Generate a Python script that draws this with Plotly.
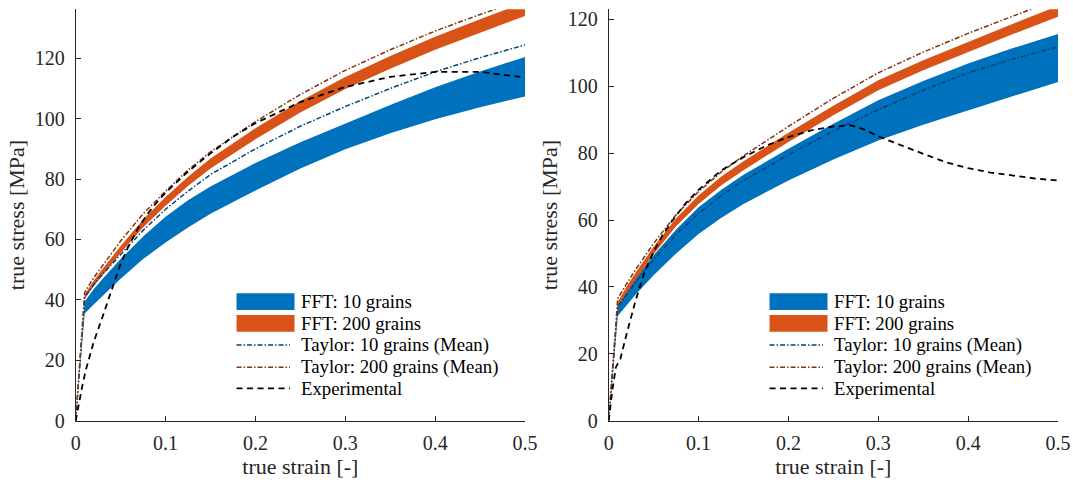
import plotly.graph_objects as go

# ---- data -------------------------------------------------------------
strain = [0, 0.01, 0.02, 0.03, 0.05, 0.075, 0.1, 0.125, 0.15, 0.2, 0.25, 0.3, 0.35, 0.4, 0.45, 0.5]

# left panel
fft10_lo_a = [0, 35.5, 38.5, 41.5, 47, 53.5, 59, 64, 68.5, 76.2, 83.5, 89.9, 95.2, 99.8, 103.8, 107.3]
fft10_hi_a = [0, 39.5, 43.5, 47, 53.5, 61, 67.5, 73, 77.5, 85.3, 92.2, 98.4, 104.5, 110.4, 115.6, 120.4]
fft200_lo_a = [0, 40.3, 44.5, 48.3, 55.5, 64, 71.2, 77.7, 83.5, 93.2, 102, 109.8, 116.5, 122.8, 128.5, 134.0]
fft200_hi_a = [0, 41.8, 46.3, 50.3, 57.8, 66.6, 74.1, 80.8, 86.8, 96.8, 105.8, 113.8, 120.7, 127.1, 132.9, 138.5]
taylor10_a = [0, 41, 45, 48.5, 55, 63, 70, 76, 81.5, 90, 97.5, 104, 110, 115.5, 120.2, 124.4]
taylor200_a = [0, 42.5, 47.3, 51.5, 59.5, 68.5, 76, 83, 89, 99, 108, 116, 122.8, 129, 134.5, 139.5]
exp_strain_a = [0, 0.003, 0.007, 0.011, 0.02, 0.03, 0.04, 0.05, 0.06, 0.07, 0.08, 0.09, 0.1,
                0.125, 0.15, 0.175, 0.2, 0.25, 0.3, 0.35, 0.4, 0.45, 0.5]
exp_stress_a = [0, 5, 11, 16.5, 26, 34.5, 43.5, 52, 58.5, 64, 68.5, 72.2, 75.5,
                82.5, 88.5, 94, 98.5, 105.5, 110.5, 113.8, 115.5, 115.5, 113.6]

# right panel
fft10_lo_b = [0, 31.3, 34.6, 37.7, 43.5, 50, 55.8, 60.6, 64.8, 71.8, 78.1, 83.8, 88.5, 92.8, 97.1, 101.3]
fft10_hi_b = [0, 35, 38.9, 42.6, 49.5, 57.2, 63.8, 69, 73.5, 81.3, 88.8, 95.8, 101.6, 106.8, 111.4, 115.6]
fft200_lo_b = [0, 33.8, 38.2, 42.3, 49.8, 58.1, 64.8, 70.3, 74.9, 83.3, 91.3, 98.8, 104.8, 110.3, 115.6, 120.8]
fft200_hi_b = [0, 35.5, 40.1, 44.3, 52.0, 60.5, 67.3, 72.9, 77.6, 86.1, 94.2, 101.8, 107.8, 113.3, 118.7, 124.0]
taylor10_b = [0, 34, 37.8, 41.4, 48.1, 55.7, 62, 67.3, 71.8, 79.5, 86.6, 93, 98.8, 104, 108.1, 111.8]
taylor200_b = [0, 36.5, 41, 45.2, 53, 61.6, 68.5, 74.3, 79.2, 88, 96.4, 104, 110.2, 115.8, 121, 126]
exp_strain_b = [0, 0.004, 0.008, 0.013, 0.02, 0.03, 0.04, 0.05, 0.06, 0.07, 0.085, 0.1, 0.125,
                0.15, 0.175, 0.2, 0.225, 0.25, 0.27, 0.285, 0.3, 0.325, 0.35, 0.375, 0.4,
                0.425, 0.45, 0.475, 0.5]
exp_stress_b = [0, 9, 16, 18.5, 26, 36, 44.5, 50.5, 55.5, 59.5, 64.8, 69, 74.8,
                78.8, 82.2, 84.8, 86.8, 88, 88.3, 87, 85, 82.3, 79.8, 77.3, 75.5,
                74.2, 73.2, 72.4, 71.8]

x_ticks = [0, 0.1, 0.2, 0.3, 0.4, 0.5]
x_ticklabels = ["0", "0.1", "0.2", "0.3", "0.4", "0.5"]
y_ticks = [0, 20, 40, 60, 80, 100, 120]

legend_labels = ["FFT: 10 grains", "FFT: 200 grains", "Taylor: 10 grains (Mean)",
                 "Taylor: 200 grains (Mean)", "Experimental"]

# ---- styling ----------------------------------------------------------
BLUE = "#0072BD"
ORANGE = "#D95319"
DARK_BLUE = "#00446F"
DARK_ORANGE = "#82320F"
AXIS_COLOR = "#262626"
FONT = "Liberation Serif"
DASHDOT = "5px,2px,1.5px,2px"
DASHED = "6px,4.5px"

fig = go.Figure()


def band(x, lo, hi, color, xa, ya):
    fig.add_trace(go.Scatter(
        x=list(x) + list(x)[::-1], y=list(hi) + list(lo)[::-1],
        fill="toself", fillcolor=color, mode="lines",
        line=dict(width=0, color=color), hoverinfo="skip",
        showlegend=False, xaxis=xa, yaxis=ya))


def curve(x, y, color, width, dash, xa, ya):
    fig.add_trace(go.Scatter(
        x=x, y=y, mode="lines", line=dict(color=color, width=width, dash=dash),
        showlegend=False, xaxis=xa, yaxis=ya))


panels = [
    ("x", "y", fft10_lo_a, fft10_hi_a, fft200_lo_a, fft200_hi_a, taylor10_a, taylor200_a,
     exp_strain_a, exp_stress_a),
    ("x2", "y2", fft10_lo_b, fft10_hi_b, fft200_lo_b, fft200_hi_b, taylor10_b, taylor200_b,
     exp_strain_b, exp_stress_b),
]

for xa, ya, lo10, hi10, lo200, hi200, t10, t200, ex, ey in panels:
    band(strain, lo10, hi10, BLUE, xa, ya)
    band(strain, lo200, hi200, ORANGE, xa, ya)
    curve(strain, t10, DARK_BLUE, 1.5, DASHDOT, xa, ya)
    curve(strain, t200, DARK_ORANGE, 1.5, DASHDOT, xa, ya)
    curve(ex, ey, "black", 1.8, DASHED, xa, ya)

# ---- hand-built legends (one per panel, in axis-domain coordinates) ----
row_y = [0.2893, 0.2368, 0.184, 0.1298, 0.0788]
sym_x0, sym_x1, text_x = 0.358, 0.487, 0.4984
half_h = 0.0203
shapes = []
annotations = []
for xa, ya in [("x", "y"), ("x2", "y2")]:
    xr, yr = xa + " domain", ya + " domain"
    for color, ry in [(BLUE, row_y[0]), (ORANGE, row_y[1])]:
        shapes.append(dict(type="rect", xref=xr, yref=yr, x0=sym_x0, x1=sym_x1,
                           y0=ry - half_h, y1=ry + half_h, fillcolor=color,
                           line=dict(width=0)))
    for color, width, dash, ry in [(DARK_BLUE, 1.5, DASHDOT, row_y[2]),
                                   (DARK_ORANGE, 1.5, DASHDOT, row_y[3]),
                                   ("black", 1.8, DASHED, row_y[4])]:
        shapes.append(dict(type="line", xref=xr, yref=yr, x0=sym_x0, x1=sym_x1 - 0.01,
                           y0=ry, y1=ry, line=dict(color=color, width=width, dash=dash)))
    for label, ry in zip(legend_labels, row_y):
        annotations.append(dict(xref=xr, yref=yr, x=text_x, y=ry, text=label,
                                showarrow=False, xanchor="left", yanchor="middle",
                                borderpad=0, font=dict(family=FONT, size=18.8, color="black")))

axis_common = dict(
    showline=True, linecolor=AXIS_COLOR, linewidth=1, mirror=False,
    ticks="inside", ticklen=5, tickcolor=AXIS_COLOR, tickwidth=1,
    showgrid=False, zeroline=False, automargin=False,
    tickfont=dict(family=FONT, size=20, color=AXIS_COLOR),
)
title_font = dict(family=FONT, size=22, color=AXIS_COLOR)

xdom_a = [75.7 / 1073, 525 / 1073]
xdom_b = [608.7 / 1073, 1058 / 1073]
ydom = [(480 - 420.7) / 480, (480 - 9.3) / 480]

fig.update_layout(
    width=1073, height=480,
    margin=dict(l=0, r=0, t=0, b=0, autoexpand=False),
    paper_bgcolor="white", plot_bgcolor="white",
    showlegend=False,
    shapes=shapes, annotations=annotations,
    xaxis=dict(domain=xdom_a, range=[0, 0.5], tickvals=x_ticks, ticktext=x_ticklabels,
               title=dict(text="true strain [-]", font=title_font, standoff=3),
               anchor="y", ticklabelstandoff=4, **axis_common),
    yaxis=dict(domain=ydom, range=[0, 136.2], tickvals=y_ticks,
               title=dict(text="true stress [MPa]", font=title_font, standoff=4),
               anchor="x", ticklabelstandoff=6, **axis_common),
    xaxis2=dict(domain=xdom_b, range=[0, 0.5], tickvals=x_ticks, ticktext=x_ticklabels,
                title=dict(text="true strain [-]", font=title_font, standoff=3),
                anchor="y2", ticklabelstandoff=4, **axis_common),
    yaxis2=dict(domain=ydom, range=[0, 123.0], tickvals=y_ticks,
                title=dict(text="true stress [MPa]", font=title_font, standoff=4),
                anchor="x2", ticklabelstandoff=6, **axis_common),
)

fig.write_html("out.html")
